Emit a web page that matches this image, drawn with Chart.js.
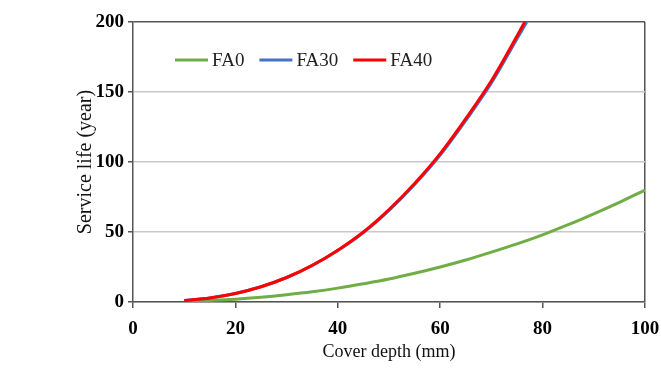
<!DOCTYPE html>
<html>
<head>
<meta charset="utf-8">
<script src="https://cdn.jsdelivr.net/npm/chart.js@4.4.0/dist/chart.umd.min.js"></script>
<style>
  html, body { margin: 0; padding: 0; background: #fff; }
  #wrap { width: 661px; height: 374px; }
</style>
</head>
<body>
<div id="wrap"><canvas id="chart" width="661" height="374"></canvas></div>
<script>
const seriesNames = ['FA0', 'FA30', 'FA40'];
const seriesColors = ['#70ad47', '#4472c4', '#ff0000'];

// cover depth (mm) for each curve
const depthFA0 = [10, 15, 20, 25, 30, 35, 40, 45, 50, 55, 60, 65, 70, 75, 80, 85, 90, 95, 100];
const depthFA30 = [10, 15, 20, 25, 30, 35, 40, 45, 50, 55, 60, 65, 70, 75, 76.5, 76.9];
const depthFA40 = [10, 15, 20, 25, 30, 35, 40, 45, 50, 55, 60, 65, 70, 75, 76.5];

// service life (year)
const lifeFA0 = [0.4, 1.1, 2.0, 3.4, 5.2, 7.3, 9.9, 13.0, 16.4, 20.5, 25, 30, 35.6, 41.5, 48, 55.2, 63, 71.2, 80];
const lifeFA30 = [1.0, 2.9, 6.1, 10.9, 17.5, 26.1, 36.8, 49.6, 65.4, 83.9, 104.9, 129.7, 156.4, 188, 197.5, 200];
const lifeFA40 = [1.0, 2.9, 6.1, 10.9, 17.5, 26.2, 37, 50, 66, 84.7, 106, 131, 158, 190, 200];

const xTicks = [0, 20, 40, 60, 80, 100];
const yTicks = [0, 50, 100, 150, 200];

function points(xs, ys) {
  return xs.map((x, i) => ({ x: x, y: ys[i] }));
}

const axisColor = '#555555';
const gridColor = '#c8c8c8';
const serif = "'Liberation Serif', 'Times New Roman', serif";

// legend drawn inside the plot area, top left
const innerLegend = {
  id: 'innerLegend',
  afterDatasetsDraw(chart) {
    const ctx = chart.ctx;
    const area = chart.chartArea;
    const y = area.top + 38;
    let x = area.left + 42;
    ctx.save();
    ctx.font = '19px ' + serif;
    ctx.textBaseline = 'middle';
    ctx.lineWidth = 3;
    chart.data.datasets.forEach(ds => {
      ctx.strokeStyle = ds.borderColor;
      ctx.beginPath();
      ctx.moveTo(x, y);
      ctx.lineTo(x + 33, y);
      ctx.stroke();
      ctx.fillStyle = '#222';
      ctx.fillText(ds.label, x + 37, y + 1);
      x += 37 + ctx.measureText(ds.label).width + 15;
    });
    ctx.restore();
  }
};

const ctx = document.getElementById('chart').getContext('2d');

window.myChart = new Chart(ctx, {
  type: 'line',
  data: {
    datasets: [
      {
        label: seriesNames[0],
        data: points(depthFA0, lifeFA0),
        borderColor: seriesColors[0],
        borderWidth: 3,
        order: 2
      },
      {
        label: seriesNames[1],
        data: points(depthFA30, lifeFA30),
        borderColor: seriesColors[1],
        borderWidth: 3,
        order: 1
      },
      {
        label: seriesNames[2],
        data: points(depthFA40, lifeFA40),
        borderColor: seriesColors[2],
        borderWidth: 3,
        order: 0
      }
    ]
  },
  options: {
    responsive: false,
    animation: false,
    elements: {
      point: { radius: 0 },
      line: { tension: 0.4, cubicInterpolationMode: 'monotone', fill: false }
    },
    layout: {
      padding: { top: 22, right: 16, bottom: 0, left: 0 }
    },
    plugins: {
      legend: { display: false },
      tooltip: { enabled: false }
    },
    scales: {
      x: {
        type: 'linear',
        min: 0,
        max: 100,
        afterBuildTicks: axis => { axis.ticks = xTicks.map(v => ({ value: v })); },
        afterFit: axis => {
          axis.height = 72;
          axis.paddingLeft = 0;
          axis.paddingRight = 0;
        },
        border: { color: axisColor, width: 1.5 },
        grid: {
          drawOnChartArea: true,
          color: c => (c.tick && c.tick.value === 100 ? axisColor : 'rgba(0,0,0,0)'),
          lineWidth: 1.5,
          tickColor: axisColor,
          tickLength: 6
        },
        ticks: {
          color: '#000',
          padding: 10,
          maxRotation: 0,
          font: { family: serif, size: 19, weight: 'bold' }
        },
        title: {
          display: true,
          text: 'Cover depth (mm)',
          color: '#111',
          font: { family: serif, size: 18 },
          padding: { top: 0, bottom: 11 }
        }
      },
      y: {
        type: 'linear',
        min: 0,
        max: 200,
        afterBuildTicks: axis => { axis.ticks = yTicks.map(v => ({ value: v })); },
        afterFit: axis => {
          axis.width = 133;
          axis.paddingTop = 0;
          axis.paddingBottom = 0;
        },
        border: { color: axisColor, width: 1.5 },
        grid: {
          color: c => (c.tick && c.tick.value === 200 ? axisColor : gridColor),
          lineWidth: 1.5,
          tickColor: axisColor,
          tickLength: 5
        },
        ticks: {
          color: '#000',
          padding: 4,
          font: { family: serif, size: 19, weight: 'bold' }
        },
        title: {
          display: true,
          text: 'Service life (year)',
          color: '#111',
          font: { family: serif, size: 20 },
          padding: { top: 74, bottom: 0 }
        }
      }
    }
  },
  plugins: [innerLegend]
});
</script>
</body>
</html>
